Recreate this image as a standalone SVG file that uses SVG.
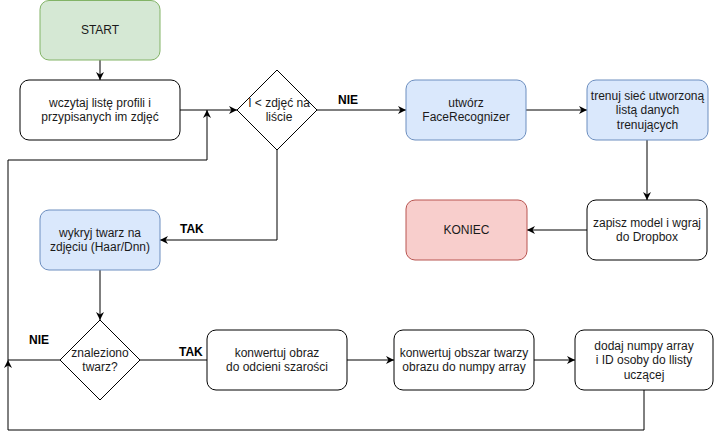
<svg xmlns="http://www.w3.org/2000/svg" width="718" height="439" viewBox="0 0 718 439">
<style>
  .box { stroke-width: 1; }
  .plain { fill: #ffffff; stroke: #000000; }
  .green { fill: #d5e8d4; stroke: #82b366; }
  .blue { fill: #dae8fc; stroke: #6c8ebf; }
  .red { fill: #f8cecc; stroke: #b85450; }
  text { font-family: "Liberation Sans", Arial, sans-serif; font-size: 12px; fill: #1a1a1a; text-anchor: middle; }
  .lbl { font-weight: bold; text-anchor: start; fill: #000000; }
  .edge { fill: none; stroke: #000000; stroke-width: 1; }
</style>
<defs>
  <marker id="arr" viewBox="0 0 10 10" refX="10" refY="5" markerWidth="8" markerHeight="8" markerUnits="userSpaceOnUse" orient="auto">
    <path d="M0,0 L10,5 L0,10 L3,5 Z" fill="#000000"/>
  </marker>
</defs>
<rect width="718" height="439" fill="#ffffff"/>

<g id="connectors">
  <path class="edge" d="M100,60 V80" marker-end="url(#arr)"/>
  <path class="edge" d="M180,110 H237" marker-end="url(#arr)"/>
  <path class="edge" d="M317,110 H406" marker-end="url(#arr)"/>
  <path class="edge" d="M526,110 H587" marker-end="url(#arr)"/>
  <path class="edge" d="M647,140 V200" marker-end="url(#arr)"/>
  <path class="edge" d="M587,230 H527" marker-end="url(#arr)"/>
  <path class="edge" d="M277,150 V240 H160" marker-end="url(#arr)"/>
  <path class="edge" d="M100,270 V320" marker-end="url(#arr)"/>
  <path class="edge" d="M140,360 H207"/>
  <path class="edge" d="M347,360 H394" marker-end="url(#arr)"/>
  <path class="edge" d="M534,360 H575" marker-end="url(#arr)"/>
  <path class="edge" d="M644,390 V430 H8 V360" marker-end="url(#arr)"/>
  <path class="edge" d="M60,360 H8 V160 H207 V110" marker-end="url(#arr)"/>
  <text class="lbl" x="338" y="104">NIE</text>
  <text class="lbl" x="180" y="233">TAK</text>
  <text class="lbl" x="29" y="344">NIE</text>
  <text class="lbl" x="179" y="356">TAK</text>
</g>

<g id="start">
  <rect class="box green" x="40" y="0.5" width="120" height="59.5" rx="9"/>
  <text x="100" y="34">START</text>
</g>
<g id="wczytaj">
  <rect class="box plain" x="20" y="80" width="160" height="60" rx="9"/>
  <text x="100" y="107">wczytaj listę profili i</text>
  <text x="100" y="121.4">przypisanych im zdjęć</text>
</g>
<g id="decision1">
  <path class="box plain" d="M277,70 L317,110 L277,150 L237,110 Z"/>
  <text x="279" y="107">I &lt; zdjęć na</text>
  <text x="279" y="121.4">liście</text>
</g>
<g id="utworz">
  <rect class="box blue" x="406" y="80" width="120" height="60" rx="9"/>
  <text x="466" y="107">utwórz</text>
  <text x="466" y="121.4">FaceRecognizer</text>
</g>
<g id="trenuj">
  <rect class="box blue" x="587" y="80" width="121" height="60" rx="9"/>
  <text x="647.5" y="100">trenuj sieć utworzoną</text>
  <text x="647.5" y="114.4">listą danych</text>
  <text x="647.5" y="128.8">trenujących</text>
</g>
<g id="zapisz">
  <rect class="box plain" x="587" y="200" width="120" height="60" rx="9"/>
  <text x="647" y="227">zapisz model i wgraj</text>
  <text x="647" y="241.4">do Dropbox</text>
</g>
<g id="koniec">
  <rect class="box red" x="406" y="200" width="121" height="60" rx="9"/>
  <text x="466.5" y="234">KONIEC</text>
</g>
<g id="wykryj">
  <rect class="box blue" x="40" y="210" width="120" height="60" rx="9"/>
  <text x="100" y="237">wykryj twarz na</text>
  <text x="100" y="251.4">zdjęciu (Haar/Dnn)</text>
</g>
<g id="decision2">
  <path class="box plain" d="M100,320 L140,360 L100,400 L60,360 Z"/>
  <text x="100" y="357">znaleziono</text>
  <text x="100" y="371.4">twarz?</text>
</g>
<g id="konwertuj1">
  <rect class="box plain" x="207" y="330" width="140" height="60" rx="9"/>
  <text x="277" y="357">konwertuj obraz</text>
  <text x="277" y="371.4">do odcieni szarości</text>
</g>
<g id="konwertuj2">
  <rect class="box plain" x="394" y="330" width="140" height="60" rx="9"/>
  <text x="464" y="357">konwertuj obszar twarzy</text>
  <text x="464" y="371.4">obrazu do numpy array</text>
</g>
<g id="dodaj">
  <rect class="box plain" x="575" y="330" width="138" height="60" rx="9"/>
  <text x="644" y="350">dodaj numpy array</text>
  <text x="644" y="364.4">i ID osoby do llisty</text>
  <text x="644" y="378.8">uczącej</text>
</g>
</svg>
